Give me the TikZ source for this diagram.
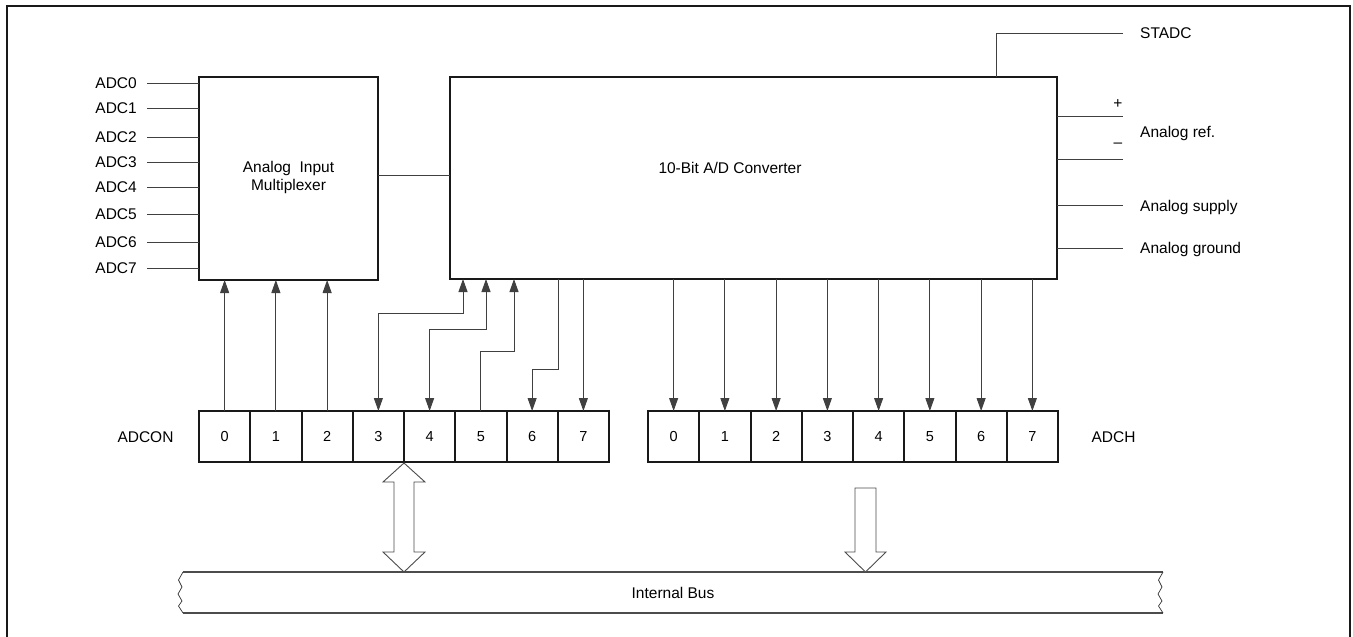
\documentclass[tikz,border=0pt]{standalone}
\usepackage{fontspec}
\setmainfont{Liberation Sans}
\usetikzlibrary{arrows.meta}
\tikzset{
  box/.style={draw=black!90, line width=2.2pt, minimum width=#1, inner sep=0pt, outer sep=0pt},
  cell/.style={draw=black!90, line width=2pt, minimum width=51.25pt, minimum height=51pt, inner sep=0pt, outer sep=0pt, font=\fontsize{14.5}{17}\selectfont},
  wire/.style={draw=black!75, line width=0.9pt},
  sig/.style={wire, -{Triangle[length=13pt,width=9pt]}},
  sigb/.style={wire, {Triangle[length=13pt,width=9pt]}-{Triangle[length=13pt,width=9pt]}},
  lbl/.style={inner sep=0pt, font=\fontsize{15.5}{18.5}\selectfont},
  bigarrow/.style={draw=black!70, line width=0.9pt, fill=white, line join=miter},
}
\begin{document}
\begin{tikzpicture}[x=1pt,y=-1pt]
\useasboundingbox (0,0) rectangle (1353,637);
% frame
\draw[black!90, line width=2.2pt] (7,637) -- (7,6) -- (1350,6) -- (1350,637);

% multiplexer
\node[box=179pt, minimum height=203pt] (mux) at (288.5,178.5) {};
\node[lbl, align=center] (muxtxt) at (288.5,177.5) {Analog\ \ Input\\[0pt]Multiplexer};

% A/D converter
\node[box=607pt, minimum height=202pt] (adc) at (753.5,178) {};
\node[lbl] (adctxt) at (730,168) {10-Bit A/D Converter};

% ADC inputs
\foreach \i/\y in {0/83,1/108,2/137,3/162,4/187,5/214,6/242,7/268}{
  \node[lbl, anchor=east] (in\i) at (137,\y) {ADC\i};
  \coordinate (inw\i) at (147,\y);
  \draw[wire] (inw\i) -- (inw\i -| mux.west);
}
% mux to adc
\coordinate (mxl) at (378,175);
\draw[wire] (mux.east |- mxl) -- (adc.west |- mxl);

% right side signals
\coordinate (stadcEnd) at (1123,33);
\coordinate (stadcK) at (996,33);
\node[lbl, anchor=west] (stadc) at (1140,33) {STADC};
\draw[wire] (adc.north -| stadcK) -- (stadcK) -- (stadcEnd);

\node[lbl] (plus) at (1118,104) {+};
\node[lbl] (minus) at (1118,145) {–};
\node[lbl, anchor=west] (aref) at (1140,133) {Analog ref.};
\coordinate (rp) at (1123,116);
\coordinate (rm) at (1123,159);
\draw[wire] (adc.east |- rp) -- (rp);
\draw[wire] (adc.east |- rm) -- (rm);
\node[lbl, anchor=west] (asup) at (1140,207) {Analog supply};
\node[lbl, anchor=west] (agnd) at (1140,249) {Analog ground};
\coordinate (sp) at (1123,205);
\coordinate (gp) at (1123,248);
\draw[wire] (adc.east |- sp) -- (sp);
\draw[wire] (adc.east |- gp) -- (gp);

% registers
\foreach \i in {0,...,7}{
  \node[cell] (c\i) at ({199+(\i+0.5)*51.25},436.5) {\i};
  \node[cell] (h\i) at ({648+(\i+0.5)*51.25},436.5) {\i};
}
\node[lbl] (adcon) at (145.5,437) {ADCON};
\node[lbl] (adch) at (1113.5,437) {ADCH};

% ADCON 0..2 to mux
\foreach \i in {0,1,2}{
  \draw[sig] (c\i.north) -- (c\i.north |- mux.south);
}
% ADCON 3..7 routing
\coordinate (k3) at (463,313);
\coordinate (k4) at (486,329);
\coordinate (k5) at (514,351);
\coordinate (k6) at (558,369);
\draw[sigb] (adc.south -| k3) -- (k3) -- (c3.north |- k3) -- (c3.north);
\draw[sigb] (adc.south -| k4) -- (k4) -- (c4.north |- k4) -- (c4.north);
\draw[sig] (c5.north) -- (c5.north |- k5) -- (k5) -- (adc.south -| k5);
\draw[sig] (adc.south -| k6) -- (k6) -- (c6.north |- k6) -- (c6.north);
\draw[sig] (adc.south -| c7.north) -- (c7.north);

% ADCH arrows
\foreach \i in {0,...,7}{
  \draw[sig] (adc.south -| h\i.north) -- (h\i.north);
}

% internal bus
\coordinate (busTL) at (183,572);
\coordinate (busBL) at (183,613);
\coordinate (busTR) at (1163,572);
\coordinate (busBR) at (1163,613);
\draw[draw=black!70, line width=1.1pt] (busTL) -- (busTR);
\draw[draw=black!70, line width=1.1pt] (busBL) -- (busBR);
\draw[black!80, line width=0.7pt] (busTL) -- (178.5,580) -- (182,587) -- (178,594) -- (182,601) -- (178.5,606) -- (busBL);
\draw[black!80, line width=0.7pt] (busTR) -- (1158.5,580) -- (1162,587) -- (1158,594) -- (1162,601) -- (1158.5,606) -- (busBR);
\node[lbl] (bustxt) at (673,593) {Internal Bus};

% double arrow ADCON <-> bus
\draw[bigarrow] (404,463) -- (425,482) -- (414,482) -- (414,552) -- (425,552) -- (404,572)
  -- (383,552) -- (394,552) -- (394,482) -- (383,482) -- cycle;
% single arrow ADCH -> bus
\draw[bigarrow] (855,488) -- (876,488) -- (876,552) -- (886,552) -- (865.5,572) -- (845,552) -- (855,552) -- cycle;
\end{tikzpicture}
\end{document}
